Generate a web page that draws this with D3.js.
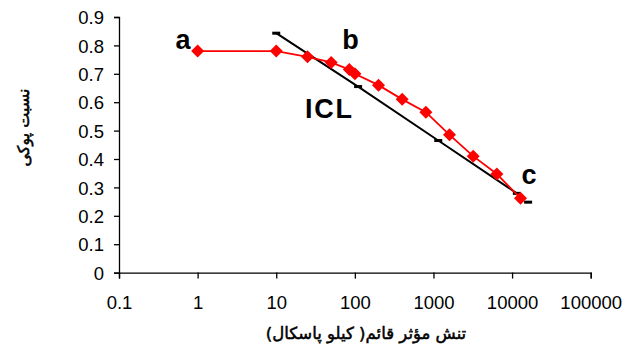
<!DOCTYPE html>
<html><head><meta charset="utf-8">
<script src="https://cdn.jsdelivr.net/npm/d3@7"></script>
<style>body{margin:0;background:#fff}svg{display:block}</style>
</head><body>
<svg id="c" width="625" height="353"></svg>
<script>
const stress = [1, 10, 25, 50, 85, 100, 200, 400, 800, 1600, 3200, 6400, 12800];
const voidRatio = [0.78, 0.78, 0.76, 0.74, 0.715, 0.70, 0.66, 0.61, 0.565, 0.485, 0.41, 0.347, 0.262];
const iclStress = [10, 110, 1150, 11500];
const iclValue = [0.843, 0.655, 0.465, 0.279];
const extraDash = [[16000, 0.248]];
const xTicks = [0.1, 1, 10, 100, 1000, 10000, 100000];
const yTicks = [0, 0.1, 0.2, 0.3, 0.4, 0.5, 0.6, 0.7, 0.8, 0.9];
const pointLabels = [["a", 183, 49], ["b", 350.5, 49], ["c", 529, 183.5]];

const svg = d3.select("#c");
const x = d3.scaleLog().domain([0.1, 100000]).range([119, 590.7]);
const y = d3.scaleLinear().domain([0, 0.9]).range([272.6, 17]);

const xAxis = svg.append("g").attr("transform", "translate(0,272.6)")
  .call(d3.axisBottom(x).tickValues(xTicks).tickFormat(d => String(d)).tickSize(6).tickPadding(17));
const yAxis = svg.append("g").attr("transform", "translate(119,0)")
  .call(d3.axisLeft(y).tickValues(yTicks).tickFormat(d => String(d)).tickSize(5).tickPadding(10));
[xAxis, yAxis].forEach(g => {
  g.selectAll("path.domain").attr("stroke", "#000").attr("stroke-width", 1.3);
  g.selectAll(".tick line").attr("stroke", "#000").attr("stroke-width", 1.3);
  g.selectAll("text").attr("font-family", "Liberation Sans, Arial, sans-serif").attr("font-size", 18.5).attr("fill", "#000");
});
yAxis.selectAll("text").attr("dy", "0.36em");

// ICL line
const icl = iclStress.map((s, i) => [s, iclValue[i]]);
svg.append("path").datum(icl)
  .attr("d", d3.line().x(d => x(d[0])).y(d => y(d[1])))
  .attr("fill", "none").attr("stroke", "#000").attr("stroke-width", 2);
svg.selectAll("rect.dash").data(icl.concat(extraDash)).enter().append("rect")
  .attr("x", d => x(d[0]) - 4).attr("y", d => y(d[1]) - 1.5)
  .attr("width", 8).attr("height", 3).attr("fill", "#000");

// red series
const pts = stress.map((s, i) => [s, voidRatio[i]]);
svg.append("path").datum(pts)
  .attr("d", d3.line().x(d => x(d[0])).y(d => y(d[1])))
  .attr("fill", "none").attr("stroke", "#ff0000").attr("stroke-width", 1.8);
svg.selectAll("path.mk").data(pts).enter().append("path")
  .attr("transform", d => `translate(${x(d[0])},${y(d[1])})`)
  .attr("d", "M0,-6.5L6.5,0L0,6.5L-6.5,0Z").attr("fill", "#ff0000");

// labels
svg.selectAll("text.lab").data(pointLabels).enter().append("text")
  .attr("x", d => d[1]).attr("y", d => d[2]).attr("text-anchor", "middle")
  .attr("font-family", "Liberation Sans, Arial, sans-serif").attr("font-weight", "bold")
  .attr("font-size", 27).text(d => d[0]);
svg.append("text").attr("x", 305).attr("y", 118)
  .attr("font-family", "Liberation Sans, Arial, sans-serif").attr("font-weight", "bold")
  .attr("font-size", 27).attr("textLength", 47).attr("lengthAdjust", "spacing").text("ICL");

// axis titles
svg.append("text").attr("x", 366).attr("y", 339).attr("text-anchor", "middle")
  .attr("font-family", "DejaVu Sans, sans-serif").attr("font-size", 16.5)
  .attr("stroke", "#000").attr("stroke-width", 0.5)
  .attr("direction", "rtl").text("تنش مؤثر قائم( کیلو  پاسکال)");
svg.append("text").attr("transform", "translate(29,127.5) rotate(-90)").attr("text-anchor", "middle")
  .attr("font-family", "DejaVu Sans, sans-serif").attr("font-size", 16)
  .attr("stroke", "#000").attr("stroke-width", 0.5)
  .attr("direction", "rtl").text("نسبت پوکی");
</script>
</body></html>
